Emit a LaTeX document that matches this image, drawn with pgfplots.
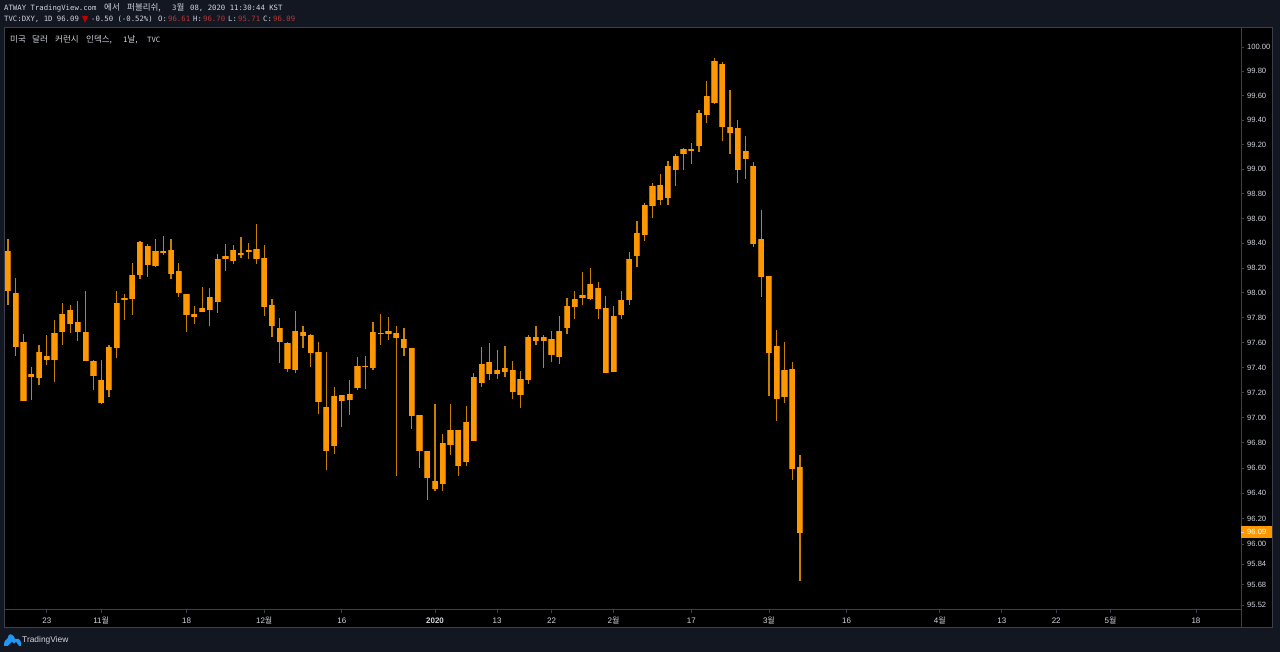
\documentclass[border=0pt]{standalone}
\usepackage{fontspec}
\usepackage{pgfplots}
\usepackage{pgfplotstable}
\pgfplotsset{compat=1.18}
\setmainfont{DejaVu Sans Mono}
\newfontfamily\kr{Noto Sans CJK KR}
\newfontfamily\lib{Liberation Sans}
\definecolor{bg}{HTML}{131722}
\definecolor{fr}{HTML}{3C404C}
\definecolor{txt}{HTML}{D1D4DC}
\definecolor{org}{HTML}{FF9800}
\definecolor{orgd}{HTML}{B87000}
\definecolor{wick}{HTML}{C88000}
\definecolor{rd}{HTML}{B23A3A}
\definecolor{blu}{HTML}{2196F3}
% i high bodytop bodybottom low
\pgfplotstableread{
i hi top bot lo
0 98.436 98.334 98.016 97.903
1 98.119 98.000 97.565 97.495
2 97.667 97.605 97.137 97.130
3 97.401 97.347 97.325 97.140
4 97.581 97.524 97.315 97.258
5 97.659 97.495 97.462 97.422
6 97.782 97.675 97.457 97.285
7 97.917 97.831 97.688 97.581
8 97.903 97.858 97.747 97.677
9 97.935 97.763 97.685 97.616
10 98.016 97.683 97.452 97.452
11 97.460 97.452 97.336 97.220
12 97.460 97.304 97.121 97.110
13 97.583 97.562 97.218 97.167
14 98.016 97.922 97.554 97.476
15 97.992 97.960 97.944 97.782
16 98.242 98.145 97.952 97.825
17 98.420 98.412 98.145 98.113
18 98.390 98.379 98.223 98.129
19 98.436 98.339 98.218 98.210
20 98.460 98.339 98.323 98.301
21 98.436 98.347 98.153 98.113
22 98.242 98.178 98.000 97.968
23 97.992 97.989 97.825 97.685
24 97.895 97.831 97.809 97.750
25 98.049 97.879 97.847 97.847
26 98.040 97.968 97.863 97.731
27 98.315 98.274 97.930 97.839
28 98.390 98.299 98.269 98.178
29 98.387 98.344 98.253 98.234
30 98.452 98.323 98.301 98.282
31 98.403 98.342 98.328 98.269
32 98.557 98.355 98.274 98.234
33 98.387 98.280 97.887 97.815
34 97.949 97.901 97.731 97.645
35 97.798 97.715 97.605 97.435
36 97.605 97.599 97.387 97.363
37 97.855 97.691 97.382 97.355
38 97.734 97.685 97.653 97.556
39 97.669 97.659 97.519 97.403
40 97.605 97.522 97.124 97.032
41 97.524 97.089 96.733 96.582
42 97.242 97.177 96.775 96.714
43 97.185 97.183 97.137 96.929
44 97.298 97.188 97.140 97.024
45 97.484 97.411 97.234 97.218
46 97.492 97.411 97.406 97.226
47 97.766 97.685 97.395 97.382
48 97.828 97.677 97.669 97.581
49 97.806 97.694 97.669 97.621
50 97.734 97.677 97.637 96.540
51 97.718 97.629 97.556 97.492
52 97.554 97.554 97.016 96.913
53 97.022 97.022 96.738 96.603
54 96.735 96.735 96.524 96.349
55 97.110 96.500 96.437 96.415
56 96.873 96.802 96.476 96.421
57 97.110 96.899 96.786 96.706
58 96.899 96.899 96.619 96.534
59 97.097 96.968 96.651 96.619
60 97.355 97.323 96.817 96.817
61 97.565 97.427 97.274 97.242
62 97.597 97.444 97.349 97.298
63 97.538 97.379 97.347 97.306
64 97.570 97.395 97.363 97.323
65 97.449 97.384 97.202 97.153
66 97.371 97.309 97.180 97.081
67 97.661 97.642 97.304 97.266
68 97.737 97.645 97.613 97.578
69 97.661 97.642 97.610 97.395
70 97.694 97.629 97.503 97.441
71 97.812 97.694 97.484 97.425
72 97.960 97.890 97.718 97.672
73 98.014 97.949 97.887 97.790
74 98.164 97.984 97.957 97.903
75 98.202 98.073 97.952 97.946
76 98.086 98.038 97.868 97.790
77 97.978 97.874 97.360 97.355
78 97.895 97.815 97.366 97.366
79 98.016 97.944 97.823 97.790
80 98.328 98.269 97.946 97.903
81 98.581 98.484 98.296 98.210
82 98.726 98.707 98.465 98.419
83 98.890 98.860 98.702 98.605
84 98.960 98.871 98.753 98.710
85 99.063 99.025 98.769 98.710
86 99.120 99.109 98.992 98.860
87 99.174 99.168 99.122 98.997
88 99.217 99.168 99.147 99.041
89 99.480 99.456 99.193 99.139
90 99.724 99.599 99.439 99.380
91 99.908 99.887 99.537 99.529
92 99.873 99.862 99.342 99.228
93 99.645 99.342 99.293 99.120
94 99.399 99.334 98.997 98.887
95 99.274 99.152 99.082 98.919
96 99.060 99.025 98.390 98.371
97 98.669 98.433 98.129 97.968
98 98.135 98.135 97.516 97.177
99 97.704 97.573 97.148 96.976
100 97.605 97.379 97.164 97.121
101 97.444 97.387 96.595 96.508
102 96.700 96.610 96.090 95.710
}\candles
\newcommand{\T}[4][txt]{\node[anchor=base west,inner sep=0pt,text=#1] at (#2pt,{(652-#3)*1pt}) {#4};}
\newcommand{\K}[1]{{\kr\fontsize{8.5}{9}\selectfont #1}}
\begin{document}
\begin{tikzpicture}[x=1pt,y=1pt]
\fill[bg] (0,0) rectangle (1280,652);
\path[use as bounding box] (0,0) rectangle (1280,652);
\fill[black] (4,24) rectangle (1272,624);
\begin{axis}[
  at={(4pt,42pt)},anchor=south west,
  scale only axis,width=1237pt,height=581pt,
  % the price scale of the chart is logarithmic: second-order form around 96
  y coord trafo/.code={\pgfmathparse{(#1-96)-(#1-96)*(#1-96)/192}},
  xmin=-0.515,xmax=158.8,
  ymin=95.481,ymax=100.148,
  axis line style={draw=fr,line width=1pt},
  axis x line*=bottom,axis y line*=right,
  tick align=outside,
  major tick length=3pt,
  tick style={draw=fr,line width=0.8pt},
  minor tick num=0,
  scaled y ticks=false,
  ytick={100,99.8,99.6,99.4,99.2,99,98.8,98.6,98.4,98.2,98,97.8,97.6,97.4,97.2,97,96.8,96.6,96.4,96.2,96,95.84,95.68,95.52},
  yticklabels={100.00,99.80,99.60,99.40,99.20,99.00,98.80,98.60,98.40,98.20,98.00,97.80,97.60,97.40,97.20,97.00,96.80,96.60,96.40,96.20,96.00,95.84,95.68,95.52},
  yticklabel style={font=\lib\fontsize{7.6}{8}\selectfont,text=txt,anchor=west,inner sep=0pt,xshift=3pt},
  xtick={5,12,23,33,43,55,63,70,78,88,98,108,120,128,135,142,153},
  xticklabels={23,{11{\kr 월}},18,{12{\kr 월}},16,{\bfseries 2020},13,22,{2{\kr 월}},17,{3{\kr 월}},16,{4{\kr 월}},13,22,{5{\kr 월}},18},
  xticklabel style={font=\lib\fontsize{8}{8}\selectfont,text=txt,anchor=base,inner sep=0pt,yshift=-10.5pt},
  clip=true,
]
\pgfplotsinvokeforeach{0,...,102}{
  \pgfplotstablegetelem{#1}{hi}\of\candles\let\vh\pgfplotsretval
  \pgfplotstablegetelem{#1}{top}\of\candles\let\vt\pgfplotsretval
  \pgfplotstablegetelem{#1}{bot}\of\candles\let\vb\pgfplotsretval
  \pgfplotstablegetelem{#1}{lo}\of\candles\let\vl\pgfplotsretval
  \addplot[forget plot,mark=none,line width=1.2pt,draw=wick,line cap=butt] coordinates {(#1,\vl) (#1,\vh)};
  \addplot[forget plot,mark=none,line width=6.2pt,draw=orgd,line cap=butt] coordinates {(#1,\vb) (#1,\vt)};
  \addplot[forget plot,mark=none,line width=5pt,draw=org,line cap=butt] coordinates {(#1,\vb) (#1,\vt)};
}
\end{axis}
% frame
\draw[fr,line width=1pt] (4,24) rectangle (1272,624);
\draw[fr,line width=1pt] (1241,24) -- (1241,624);
% current price tag
\fill[org] (1241,114) rectangle (1272,126);
\draw[txt,line width=0.8pt] (1241,120) -- (1244,120);
\node[anchor=west,inner sep=0pt,text=white,font=\lib\fontsize{7.6}{8}\selectfont] at (1247,120) {96.09};
% header
\begingroup
\fontsize{7.3}{9}\selectfont
\T{4}{11}{ATWAY TradingView.com}
\T{104}{11}{\K{에서}}
\T{127}{11}{\K{퍼블리쉬,}}
\T{172}{11}{3\K{월}}
\T{190}{11}{08, 2020 11:30:44 KST}
\T{4}{22}{TVC:DXY, 1D 96.09}
\fill[red!75!black] (82,636) -- (88,636) -- (85,629) -- cycle;
\T{91}{22}{-0.50 (-0.52\%)}
\T{158}{22}{O:}\T[rd]{168}{22}{96.61}
\T{193}{22}{H:}\T[rd]{203}{22}{96.70}
\T{228}{22}{L:}\T[rd]{238}{22}{95.71}
\T{263}{22}{C:}\T[rd]{273}{22}{96.09}
\T{10}{43}{\K{미국}}
\T{32}{43}{\K{달러}}
\T{55}{43}{\K{커런시}}
\T{86}{43}{\K{인덱스,}}
\T{123}{43}{1\K{날,}}
\T{147}{43}{TVC}
\endgroup
% footer logo
\fill[blu] (4,6) -- (21,6) -- (21,9.5) .. controls (20,13.5) and (17,14) .. (15,13) .. controls (13,19.5) and (8,19) .. (7.5,13.5) .. controls (5,13) and (4,10) .. (4,6) -- cycle;
\fill[bg] (8,6) -- (12,10) -- (14,8) -- (16,10) -- (19,6) -- cycle;
\node[anchor=base west,inner sep=0pt,text=txt,font=\lib\fontsize{8.4}{10}\selectfont] at (22,9) {TradingView};
\end{tikzpicture}
\end{document}
